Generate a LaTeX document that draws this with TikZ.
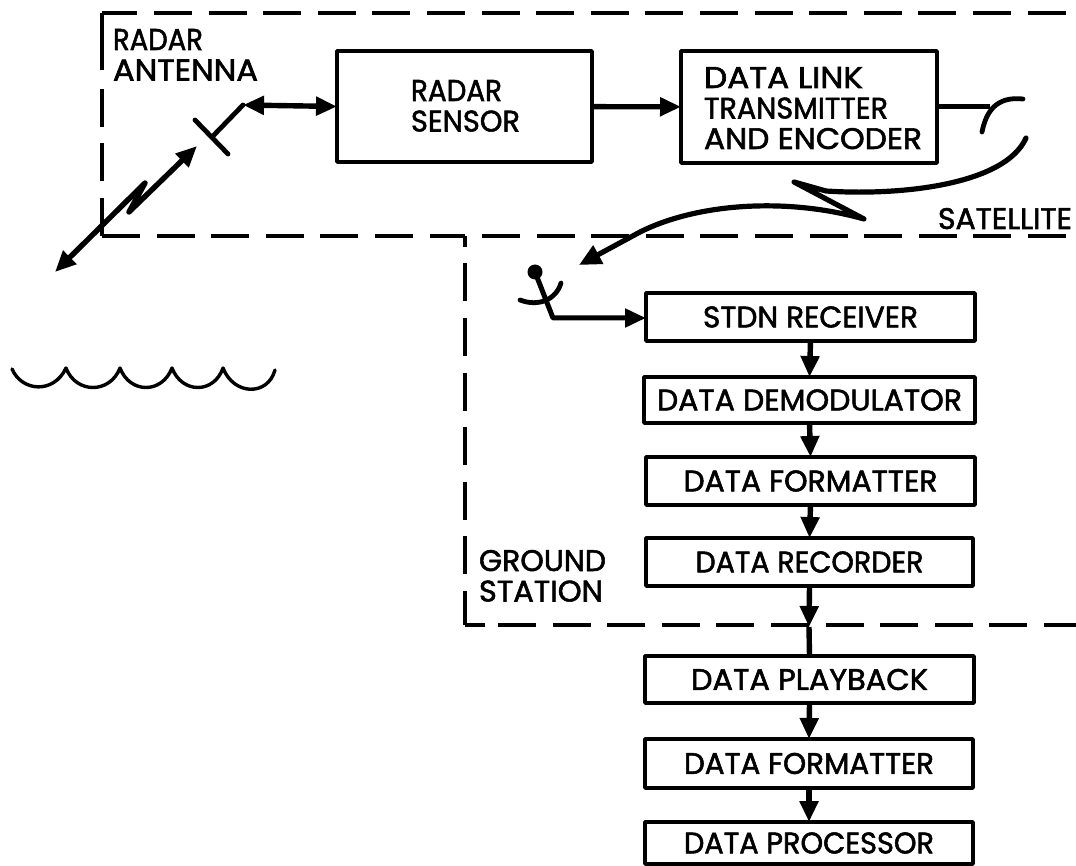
\documentclass[tikz,border=0pt]{standalone}
\usepackage{fontspec}
\usepackage{graphicx}
\usetikzlibrary{arrows.meta}
\newfontfamily\lab[FakeBold=1.8]{Poppins}
\newcommand{\T}[2]{\resizebox{#1pt}{21pt}{\lab #2}}
\tikzset{
  x=1pt,y=-1pt,
  box/.style={draw,line width=3.8pt,inner sep=0pt,outer sep=0pt,line join=round},
  lbl/.style={inner sep=0pt,outer sep=0pt,align=left,font=\fontsize{26}{30.5}\selectfont},
  arr/.style={line width=5.4pt,-{Triangle[length=21pt,width=18pt]}},
  darr/.style={line width=5.4pt,{Triangle[length=21pt,width=18pt]}-{Triangle[length=21pt,width=18pt]},line join=round},
  feed/.style={line width=4.8pt,line cap=round,line join=round},
  bound/.style={line width=3.4pt,dash pattern=on 38pt off 16.6pt},
  solidb/.style={line width=3.4pt},
}
\begin{document}
\begin{tikzpicture}
\useasboundingbox (0,0) rectangle (1076,866);
% boundaries
\draw[bound,dash phase=2.6pt] (102,13) -- (1076,13);
\draw[solidb] (102,13) -- (102,70);
\draw[bound] (102,236) -- (102,87);
\draw[bound,dash phase=0pt] (102,236) -- (465,236);
\draw[bound,dash phase=4pt] (465,625) -- (465,236);
\draw[bound] (482,236) -- (1076,236);
\draw[solidb] (465,625) -- (485,625);
\draw[bound] (498,625) -- (1076,625);
% boxes
\node[box,minimum width=255pt,minimum height=111pt] (sensor) at (464.5,106.5) {};
\node[box,minimum width=256pt,minimum height=112pt] (link) at (809,107) {};
\node[box,minimum width=329pt,minimum height=48pt] (stdn) at (810.5,317) {\T{215}{STDN RECEIVER}};
\node[box,minimum width=331pt,minimum height=46pt] (demod) at (809.5,400) {\T{305}{DATA DEMODULATOR}};
\node[box,minimum width=329pt,minimum height=48pt] (fmt) at (810.5,481) {\T{254}{DATA FORMATTER}};
\node[box,minimum width=327pt,minimum height=48pt] (rec) at (809.5,562) {\T{228}{DATA RECORDER}};
\node[box,minimum width=329pt,minimum height=47pt] (play) at (809.5,679.5) {\T{237}{DATA PLAYBACK}};
\node[box,minimum width=328pt,minimum height=49pt] (fmtb) at (809,763.5) {\T{250}{DATA FORMATTER}};
\node[box,minimum width=328pt,minimum height=42pt] (proc) at (809,843) {\T{250}{DATA PROCESSOR}};
% labels
\node[lbl,anchor=north west] (ant) at (113,29) {\T{90}{RADAR}\\\T{145}{ANTENNA}};
\node[lbl,anchor=north west] (senst) at (411,80) {\T{91}{RADAR}\\\T{109}{SENSOR}};
\node[lbl,anchor=north west] (linkt) at (704,67) {\T{159}{DATA LINK}\\\T{184}{TRANSMITTER}\\\T{218}{AND ENCODER}};
\node[lbl,anchor=north west] (sat) at (938,208) {\T{134}{SATELLITE}};
\node[lbl,anchor=north west] (gnd) at (479,550) {\T{127}{GROUND}\\\T{124}{STATION}};
% chain
\draw[arr] (sensor) -- (link);
\draw[arr] (stdn.south) -- (demod.north);
\draw[arr] (demod.south) -- (fmt.north);
\draw[arr] (fmt.south) -- (rec.north);
\coordinate (cross) at (809,627);
\draw[arr] (rec.south) -- (cross);
\draw[line width=5.4pt] (cross) -- (play.north);
\draw[arr] (play.south) -- (fmtb.north);
\draw[arr] (fmtb.south) -- (proc.north);
% radar antenna
\coordinate (afeed) at (243,105);
\coordinate (abase) at (213,136);
\coordinate (ba) at (195,120);
\coordinate (bb) at (228,154);
\draw[feed] (abase) -- (afeed);
\draw[feed] (ba) -- (bb);
\draw[darr] (afeed) -- (sensor.west);
% radar beam
\coordinate (beamtop) at (197,146);
\coordinate (beamz) at (129,212);
\coordinate (beamy) at (145,183);
\coordinate (beamend) at (55,272);
\draw[darr,line join=round] (beamtop) -- (beamz) -- (beamy) -- (beamend);
% sea
\coordinate (s0) at (12,369);
\coordinate (s1) at (66,368);
\coordinate (s2) at (120,368);
\coordinate (s3) at (172,368);
\coordinate (s4) at (223,368);
\coordinate (s5) at (275,370);
\draw[line width=3.4pt,line cap=round,line join=round]
  (s0) .. controls (22,392) and (54,394) .. (s1)
  .. controls (76,394) and (110,394) .. (s2)
  .. controls (130,394) and (162,394) .. (s3)
  .. controls (182,394) and (214,394) .. (s4)
  .. controls (234,396) and (268,396) .. (s5);
% transmit dish
\coordinate (tfeed) at (990,107);
\coordinate (d0) at (982,132);
\coordinate (d1) at (1023,99);
\draw[line width=5pt] (link.east |- tfeed) -- (tfeed);
\draw[feed] (d0) .. controls (986,112) and (996,96) .. (d1);
% downlink
\coordinate (l0) at (1026,138);
\coordinate (l1) at (826,191);
\coordinate (l2) at (794,182);
\coordinate (l3) at (864,219);
\coordinate (l4) at (579,265);
\draw[line width=5.2pt,line cap=round,line join=round,-{Triangle[length=22pt,width=20pt]}]
  (l0) .. controls (1005,185) and (900,196) .. (l1)
  -- (l2) -- (l3)
  .. controls (790,198) and (700,202) .. (640,232) -- (l4);
% receive antenna
\coordinate (ball) at (535,272);
\coordinate (knee) at (553,318);
\coordinate (r0) at (520,300);
\coordinate (r1) at (561,283);
\fill (ball) circle (7.5pt);
\draw[feed] (r0) .. controls (538,307) and (556,300) .. (r1);
\draw[line width=5pt,line join=round,-{Triangle[length=21pt,width=18pt]}] (ball) -- (knee) -- (stdn.west |- knee);
\end{tikzpicture}
\end{document}
